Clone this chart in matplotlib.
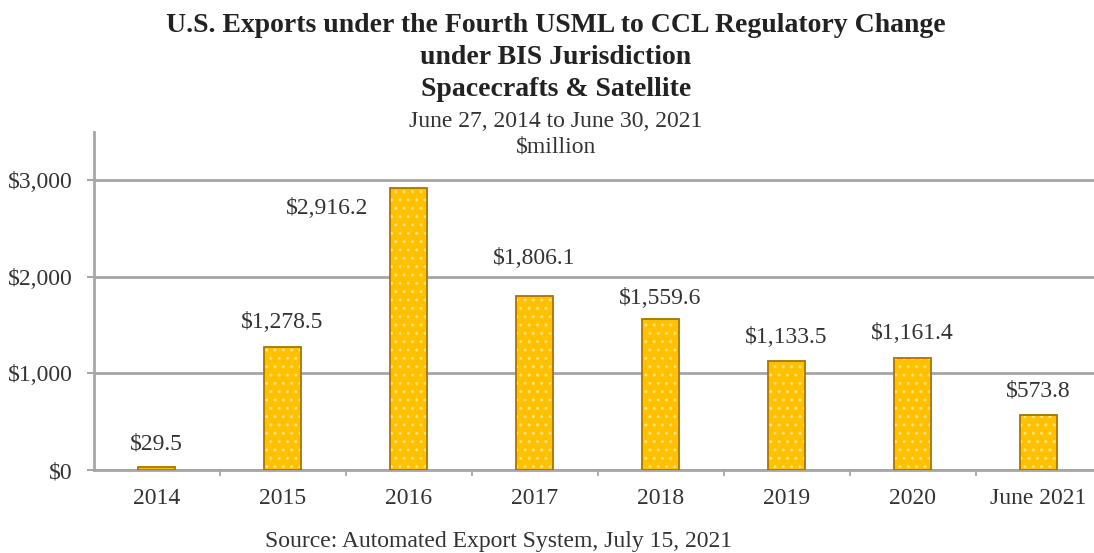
import matplotlib
matplotlib.use("Agg")
import matplotlib.pyplot as plt
import numpy as np

# Chart data ($ million)
categories = ["2014", "2015", "2016", "2017", "2018", "2019", "2020", "June 2021"]
exports = [29.5, 1278.5, 2916.2, 1806.1, 1559.6, 1133.5, 1161.4, 573.8]
value_labels = ["$29.5", "$1,278.5", "$2,916.2", "$1,806.1", "$1,559.6",
                "$1,133.5", "$1,161.4", "$573.8"]
y_ticks = [0, 1000, 2000, 3000]
y_tick_labels = ["$0", "$1,000", "$2,000", "$3,000"]

# label offsets from bar top, in pixels (x, y)
label_offsets = [(0, 23), (0, 24), (-81, -20), (0, 37), (0, 21), (0, 23), (0, 24), (0, 24)]

plt.rcParams["font.family"] = ["Liberation Serif", "DejaVu Serif"]
text_color = "#333333"
grid_color = "#a6a6a6"

fig = plt.figure(figsize=(10.94, 5.53), dpi=100)
W, H = 1094, 553
ax = fig.add_axes([93.5 / W, (H - 470) / H, (1101.5 - 93.5) / W, (470 - 132) / H])

x = np.arange(len(categories))

# bars: dotted fill, then the outline on top
ax.bar(x, exports, width=0.29, color="#ffc000", edgecolor="#ffe27a",
       linewidth=0, hatch="..", zorder=3)
ax.bar(x, exports, width=0.29, fill=False, edgecolor="#a87400",
       linewidth=1.3, zorder=4)

for i, (v, lab) in enumerate(zip(exports, value_labels)):
    dx, dy = label_offsets[i]
    ax.annotate(lab, (x[i], v), xytext=(dx, dy), textcoords="offset pixels",
                ha="center", va="center", fontsize=17, color=text_color)

ax.set_xlim(-0.5, len(categories) - 0.5)
ax.set_ylim(0, 3500)

ax.set_yticks(y_ticks)
ax.set_yticklabels(y_tick_labels)
ax.set_xticks(x)
ax.set_xticklabels(categories)
ax.set_xticks(np.arange(len(categories)) + 0.5, minor=True)

ax.tick_params(axis="y", length=5, width=1.5, color=grid_color, pad=10,
               labelsize=17, labelcolor=text_color)
ax.tick_params(axis="x", which="major", length=0, pad=13,
               labelsize=17, labelcolor=text_color)
ax.tick_params(axis="x", which="minor", length=4, width=1.3, color=grid_color)

ax.yaxis.grid(True, color=grid_color, linewidth=2)
ax.set_axisbelow(True)
for side in ["top", "right"]:
    ax.spines[side].set_visible(False)
for side in ["left", "bottom"]:
    ax.spines[side].set_color(grid_color)
    ax.spines[side].set_linewidth(2)

# titles
cx = 556 / W
title_kw = dict(ha="center", va="center", fontsize=20, fontweight="bold", color="#222222")
fig.text(cx, 1 - 25 / H, "U.S. Exports under the Fourth USML to CCL Regulatory Change", **title_kw)
fig.text(cx, 1 - 58 / H, "under BIS Jurisdiction", **title_kw)
fig.text(cx, 1 - 89 / H, "Spacecrafts & Satellite", **title_kw)
fig.text(cx, 1 - 122 / H, "June 27, 2014 to June 30, 2021",
         ha="center", va="center", fontsize=17, color=text_color)
fig.text(cx, 1 - 147 / H, "$million",
         ha="center", va="center", fontsize=17, color=text_color)

fig.text(499 / W, 1 - 542 / H, "Source: Automated Export System, July 15, 2021",
         ha="center", va="center", fontsize=17, color=text_color)

fig.savefig("out.png", dpi=100)
